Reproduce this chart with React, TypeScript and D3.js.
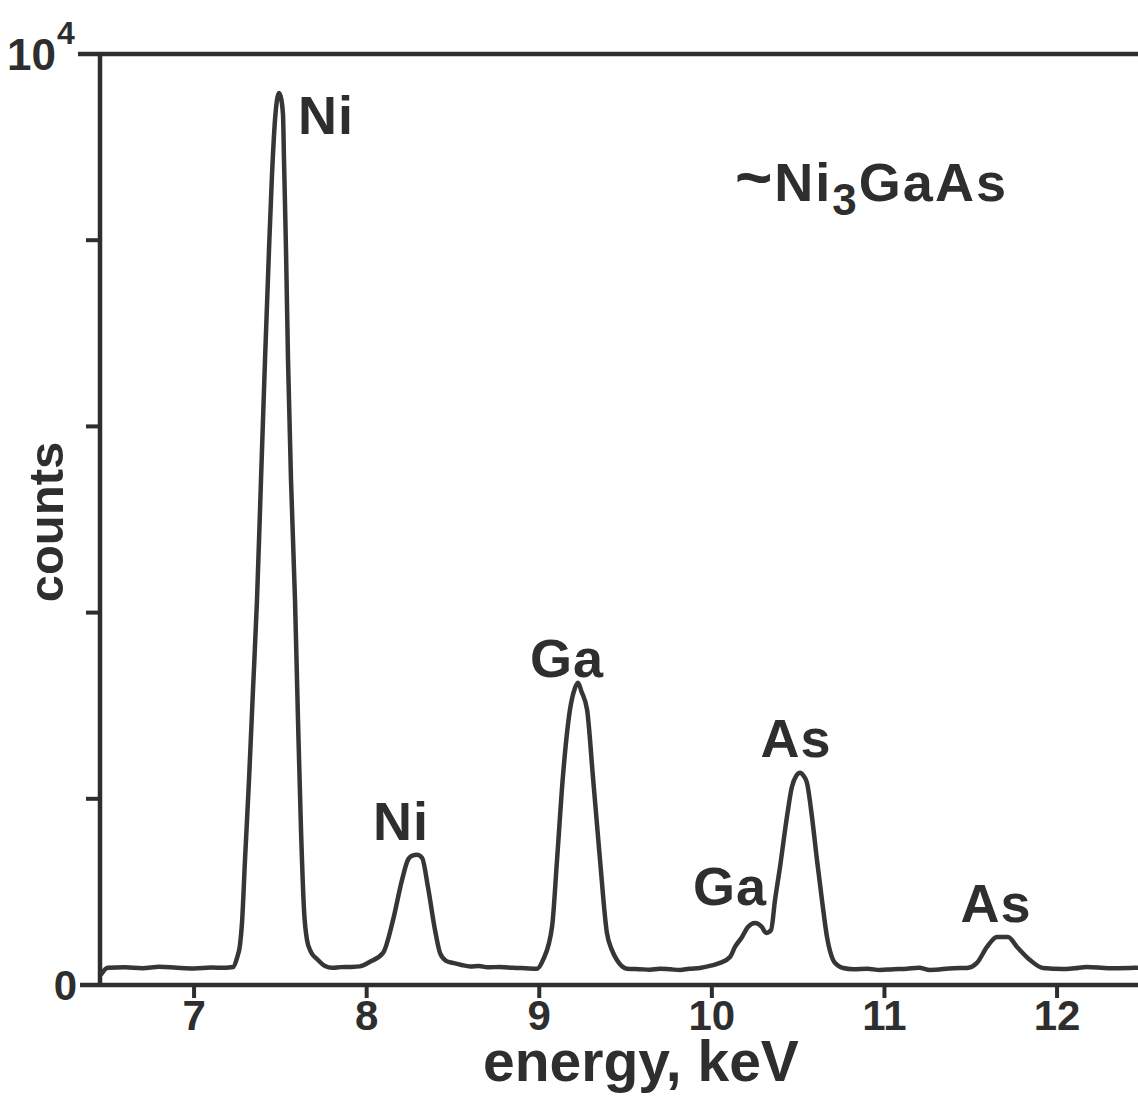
import React from "react";
import * as d3 from "d3";

// ---- data ----
const energy: number[] = [
  6.46, 6.5, 6.6, 6.7, 6.8, 6.9, 7.0, 7.1, 7.18, 7.2256,
  7.2487, 7.2661, 7.2777, 7.2951, 7.3183, 7.3414, 7.3646, 7.3878, 7.411, 7.4341,
  7.4515, 7.4689, 7.4805, 7.4921, 7.5037, 7.5153, 7.5211, 7.5327, 7.5443, 7.5617,
  7.5848, 7.6022, 7.6196, 7.637, 7.6544, 7.6776, 7.7123, 7.7587, 7.8, 7.85,
  7.903, 7.96, 8.019, 8.095, 8.153, 8.205, 8.239, 8.265, 8.292, 8.321,
  8.355, 8.396, 8.425, 8.46, 8.5, 8.55, 8.6, 8.65, 8.7, 8.772,
  8.85, 8.92, 8.987, 9.022, 9.074, 9.103, 9.137, 9.178, 9.205, 9.224,
  9.245, 9.277, 9.311, 9.352, 9.392, 9.42, 9.45, 9.508, 9.58, 9.641,
  9.7, 9.76, 9.815, 9.87, 9.931, 10.0, 10.047, 10.105, 10.134, 10.175,
  10.209, 10.25, 10.29, 10.314, 10.343, 10.366, 10.395, 10.435, 10.464, 10.49,
  10.511, 10.53, 10.551, 10.58, 10.609, 10.638, 10.667, 10.702, 10.73, 10.76,
  10.82, 10.9, 10.974, 11.05, 11.13, 11.2, 11.264, 11.4, 11.478, 11.536,
  11.594, 11.652, 11.716, 11.768, 11.843, 11.918, 12.034, 12.1, 12.173, 12.3,
  12.423, 12.469,
];
const counts: number[] = [
  110, 185, 190, 180, 195, 185, 178, 188, 185, 193,
  290, 430, 666, 1343, 2202, 3169, 4135, 5424, 6713, 7895,
  8700, 9291, 9506, 9581, 9527, 9345, 8861, 7895, 6713, 5424,
  4135, 2846, 1665, 806, 483, 354, 279, 204, 185, 192,
  194, 200, 250, 344, 699, 1129, 1344, 1390, 1398, 1366,
  1054, 591, 344, 260, 237, 215, 200, 205, 190, 194,
  185, 180, 175, 269, 624, 1344, 2237, 2957, 3180, 3247,
  3150, 2957, 2237, 1344, 559, 380, 269, 175, 170, 165,
  175, 168, 161, 175, 183, 210, 237, 301, 409, 516,
  624, 667, 624, 559, 591, 914, 1269, 1806, 2129, 2250,
  2280, 2250, 2172, 1806, 1344, 914, 516, 269, 210, 183,
  170, 175, 161, 170, 175, 185, 161, 180, 183, 237,
  409, 516, 516, 409, 269, 183, 172, 180, 194, 180,
  183, 185,
];

const xTicks: number[] = [7, 8, 9, 10, 11, 12];
const yMinorTicks: number[] = [2000, 4000, 6000, 8000];

const peakLabels: string[] = ["Ni", "Ni", "Ga", "Ga", "As", "As"];
const peakLabelE: number[] = [7.602, 8.199, 9.161, 10.105, 10.487, 11.646];
const peakLabelC: number[] = [9140, 1559, 3312, 860, 2452, 677];
const peakAnchor: string[] = ["start", "middle", "middle", "middle", "middle", "middle"];

const titleE = 10.134;
const titleC = 8420;

export default function App() {
  const W = 1138;
  const H = 1104;
  const x = d3.scaleLinear().domain([6.455, 12.469]).range([100, 1138]);
  const y = d3.scaleLinear().domain([0, 10000]).range([985, 54]);

  const pts: [number, number][] = energy.map((e, i) => [e, counts[i]]);
  const line = d3
    .line<[number, number]>()
    .x((d) => x(d[0]))
    .y((d) => y(d[1]))
    .curve(d3.curveMonotoneX);

  const ink = "#2e2e2e";
  const font = "'Liberation Sans', Arial, Helvetica, sans-serif";

  return (
    <svg
      width={W}
      height={H}
      style={{ position: "absolute", left: 0, top: 0, background: "#fff" }}
      fontFamily={font}
      fontWeight="bold"
    >
      <rect x={0} y={0} width={W} height={H} fill="#fff" />
      {/* frame */}
      <line x1={78} x2={W} y1={y(10000)} y2={y(10000)} stroke={ink} strokeWidth={4.5} />
      <line x1={100} x2={100} y1={y(10000)} y2={y(0)} stroke={ink} strokeWidth={4.5} />
      <line x1={80} x2={W} y1={y(0)} y2={y(0)} stroke={ink} strokeWidth={4.5} />
      {yMinorTicks.map((t) => (
        <line key={t} x1={86} x2={100} y1={y(t)} y2={y(t)} stroke={ink} strokeWidth={4} />
      ))}
      {xTicks.map((t) => (
        <g key={t}>
          <line x1={x(t)} x2={x(t)} y1={y(0)} y2={y(0) + 13} stroke={ink} strokeWidth={4} />
          <text x={x(t)} y={1030} textAnchor="middle" fontSize={42} fill={ink}>
            {t}
          </text>
        </g>
      ))}
      {/* y labels */}
      <text x={77} y={1000} textAnchor="end" fontSize={42} fill={ink}>0</text>
      <text x={56} y={70} textAnchor="end" fontSize={44} fill={ink}>10</text>
      <text x={57} y={44} textAnchor="start" fontSize={32} fill={ink}>4</text>
      <text
        transform={`translate(63, 522) rotate(-90)`}
        textAnchor="middle"
        fontSize={49}
        fill={ink}
      >
        counts
      </text>
      <text x={641} y={1081} textAnchor="middle" fontSize={57} fill={ink}>
        energy, keV
      </text>

      {/* spectrum */}
      <path d={line(pts) || ""} fill="none" stroke="#363636" strokeWidth={4.5} strokeLinejoin="round" />

      {/* peak labels */}
      {peakLabels.map((l, i) => (
        <text
          key={i}
          x={x(peakLabelE[i])}
          y={y(peakLabelC[i])}
          textAnchor={peakAnchor[i] as any}
          fontSize={54}
          letterSpacing={1}
          fill={ink}
        >
          {l}
        </text>
      ))}
      <text x={x(titleE)} y={y(titleC)} fontSize={54} letterSpacing={2} fill={ink}>
        <tspan fontSize={64} dy={-2}>~</tspan>
        <tspan dy={2}>Ni</tspan>
        <tspan dy={14} fontSize={44}>3</tspan>
        <tspan dy={-14}>GaAs</tspan>
      </text>
    </svg>
  );
}
